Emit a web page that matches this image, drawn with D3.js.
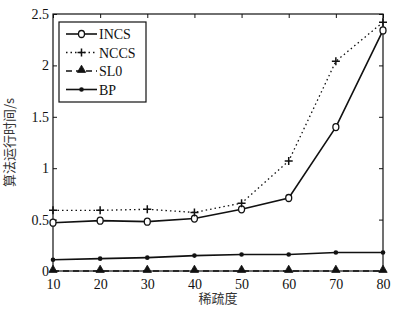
<!DOCTYPE html>
<html>
<head>
<meta charset="utf-8">
<script src="https://cdn.jsdelivr.net/npm/d3@7"></script>
<style>
  body { margin: 0; background: #fff; }
  text { font-family: "Liberation Serif", "Times New Roman", serif; }
</style>
</head>
<body>
<div id="chart"></div>
<script>
// sparsity levels
const sparsity = [10, 20, 30, 40, 50, 60, 70, 80];
// runtime (s) per algorithm
const incs = [0.47, 0.49, 0.48, 0.51, 0.60, 0.71, 1.40, 2.34];
const nccs = [0.59, 0.59, 0.60, 0.57, 0.66, 1.07, 2.04, 2.42];
const sl0 = [0, 0, 0, 0, 0, 0, 0, 0];
const bp = [0.11, 0.12, 0.13, 0.15, 0.16, 0.16, 0.18, 0.18];
const yTicks = [0, 0.5, 1, 1.5, 2, 2.5];
const seriesNames = ["INCS", "NCCS", "SL0", "BP"];

const width = 397, height = 310;
const margin = { top: 14, right: 14, bottom: 39, left: 53 };

const svg = d3.select('#chart').append('svg')
  .attr('width', width)
  .attr('height', height);

let x = d3.scaleLinear().domain([10, 80]).range([margin.left, width - margin.right]);
let y = d3.scaleLinear().domain([0, 2.5]).range([height - margin.bottom, margin.top]);

// axes, ticks pointing inward on all sides
const tickLen = 4;
svg.append('g')
  .attr('transform', 'translate(0,' + y(0) + ')')
  .call(d3.axisBottom(x).tickValues(sparsity).tickSize(-tickLen).tickPadding(8).tickFormat(d3.format('d')))
  .call(g => g.select('.domain').remove());
svg.append('g')
  .attr('transform', 'translate(0,' + y(2.5) + ')')
  .call(d3.axisTop(x).tickValues(sparsity).tickSize(-tickLen).tickFormat(''))
  .call(g => g.select('.domain').remove());
svg.append('g')
  .attr('transform', 'translate(' + x(10) + ',0)')
  .call(d3.axisLeft(y).tickValues(yTicks).tickSize(-tickLen).tickPadding(4).tickFormat(d => d))
  .call(g => g.select('.domain').remove());
svg.append('g')
  .attr('transform', 'translate(' + x(80) + ',0)')
  .call(d3.axisRight(y).tickValues(yTicks).tickSize(-tickLen).tickFormat(''))
  .call(g => g.select('.domain').remove());

svg.selectAll('.tick text')
  .style('font-size', '14px')
  .style('fill', '#111');
svg.selectAll('.tick line').style('stroke', '#111');

// frame
svg.append('rect')
  .attr('x', x(10)).attr('y', y(2.5))
  .attr('width', x(80) - x(10)).attr('height', y(0) - y(2.5))
  .attr('fill', 'none').attr('stroke', '#111').attr('stroke-width', 1.2);

const series = [
  { name: seriesNames[0], values: incs, dash: null, marker: 'diamond' },
  { name: seriesNames[1], values: nccs, dash: '1.5,3', marker: 'plus' },
  { name: seriesNames[2], values: sl0, dash: '6,4', marker: 'triangle' },
  { name: seriesNames[3], values: bp, dash: null, marker: 'dot' }
];

function drawMarker(g, type, cx, cy) {
  if (type === 'diamond') {
    g.append('ellipse').attr('cx', cx).attr('cy', cy).attr('rx', 3).attr('ry', 3.5)
      .attr('fill', '#fff').attr('stroke', '#111').attr('stroke-width', 1.3);
  } else if (type === 'plus') {
    g.append('path').attr('d', 'M' + (cx - 4) + ',' + cy + 'H' + (cx + 4) + 'M' + cx + ',' + (cy - 4) + 'V' + (cy + 4))
      .attr('stroke', '#111').attr('stroke-width', 1.5);
  } else if (type === 'triangle') {
    g.append('path').attr('d', d3.symbol(d3.symbolTriangle, 30)())
      .attr('transform', 'translate(' + cx + ',' + (cy - 1) + ')')
      .attr('fill', '#111').attr('stroke', '#111').attr('stroke-width', 0.8);
  } else {
    g.append('circle').attr('cx', cx).attr('cy', cy).attr('r', 2.3).attr('fill', '#111');
  }
}

const line = d3.line().x((d, i) => x(sparsity[i])).y(d => y(d));

series.forEach(s => {
  const g = svg.append('g');
  g.append('path')
    .datum(s.values)
    .attr('d', line)
    .attr('fill', 'none')
    .attr('stroke', '#111')
    .attr('stroke-width', s.marker === 'plus' ? 1.3 : 1.6)
    .attr('stroke-dasharray', s.dash);
  s.values.forEach((v, i) => drawMarker(g, s.marker, x(sparsity[i]), y(v)));
});

// legend
const lg = svg.append('g');
lg.append('rect').attr('x', 59).attr('y', 22).attr('width', 87).attr('height', 80)
  .attr('fill', '#fff').attr('stroke', '#111').attr('stroke-width', 1.2);
series.forEach((s, i) => {
  const ly = 34 + i * 18.5;
  lg.append('line').attr('x1', 66).attr('x2', 97).attr('y1', ly).attr('y2', ly)
    .attr('stroke', '#111').attr('stroke-width', s.marker === 'plus' ? 1.3 : 1.6)
    .attr('stroke-dasharray', s.dash);
  drawMarker(lg, s.marker, 81.5, ly);
  lg.append('text').attr('x', 99).attr('y', ly + 5)
    .style('font-size', '14px').style('fill', '#111').text(s.name);
});

// axis labels
svg.append('text')
  .attr('x', (x(10) + x(80)) / 2).attr('y', 303)
  .attr('text-anchor', 'middle')
  .style('font-family', '"Noto Sans CJK SC", sans-serif')
  .style('font-size', '13px').style('fill', '#333')
  .text('稀疏度');
svg.append('text')
  .attr('transform', 'translate(14,' + ((y(0) + y(2.5)) / 2) + ') rotate(-90)')
  .attr('text-anchor', 'middle')
  .style('font-family', '"Noto Sans CJK SC", sans-serif')
  .style('font-size', '13px').style('fill', '#333')
  .text('算法运行时间/s');
</script>
</body>
</html>
